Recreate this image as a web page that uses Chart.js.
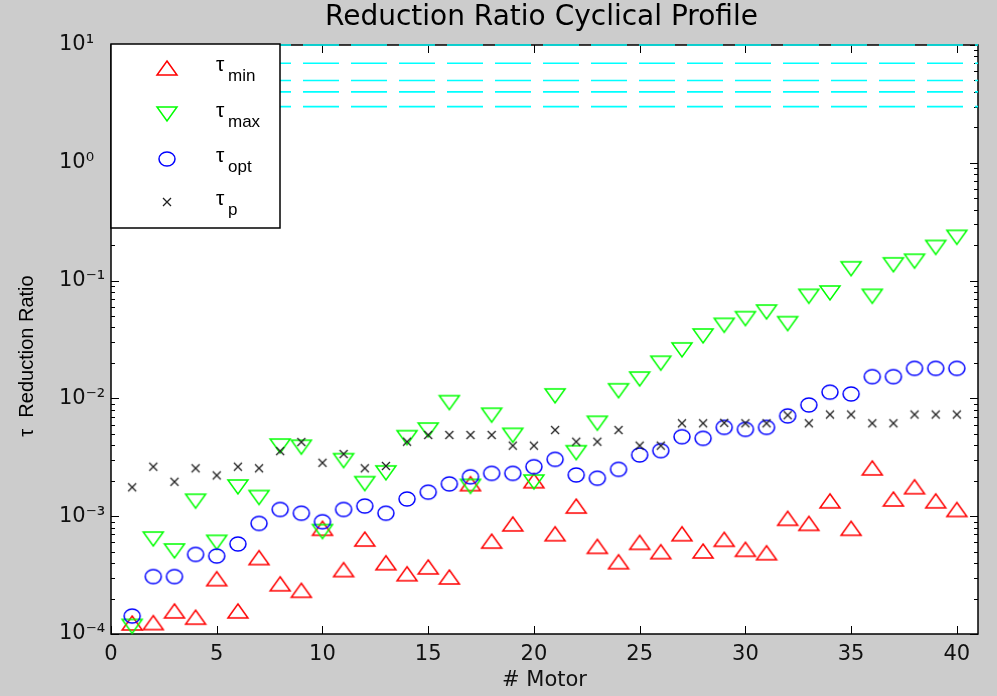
<!DOCTYPE html>
<html>
<head>
<meta charset="utf-8">
<script src="https://cdn.jsdelivr.net/npm/chart.js@4.4.0/dist/chart.umd.min.js"></script>
<style>
html,body{margin:0;padding:0;background:#cccccc;}
#wrap{width:997px;height:696px;position:relative;}
</style>
</head>
<body>
<div id="wrap"><canvas id="c" width="997" height="696"></canvas></div>
<script>
// ---------------- data ----------------
const motors = [1,2,3,4,5,6,7,8,9,10,11,12,13,14,15,16,17,18,19,20,21,22,23,24,25,26,27,28,29,30,31,32,33,34,35,36,37,38,39,40];
const tauMin = [1.24e-4,1.25e-4,1.57e-4,1.39e-4,2.95e-4,1.57e-4,4.45e-4,2.67e-4,2.35e-4,7.9e-4,
                3.52e-4,6.4e-4,4.03e-4,3.25e-4,3.71e-4,3.05e-4,1.89e-3,6.15e-4,8.6e-4,2.0e-3,
                7.1e-4,1.22e-3,5.55e-4,4.11e-4,6.0e-4,5.0e-4,7.1e-4,5.07e-4,6.37e-4,5.24e-4,
                4.9e-4,9.6e-4,8.7e-4,1.35e-3,7.9e-4,2.57e-3,1.40e-3,1.78e-3,1.35e-3,1.14e-3];
const tauMax = [1.16e-4,6.4e-4,5.07e-4,1.34e-3,6.0e-4,1.77e-3,1.44e-3,3.94e-3,3.85e-3,7.4e-4,
                2.96e-3,1.89e-3,2.33e-3,4.64e-3,5.39e-3,9.2e-3,1.79e-3,7.2e-3,4.86e-3,1.95e-3,
                1.05e-2,3.46e-3,6.15e-3,1.16e-2,1.46e-2,1.99e-2,2.58e-2,3.39e-2,4.17e-2,4.75e-2,
                5.41e-2,4.31e-2,7.35e-2,7.85e-2,0.126,7.35e-2,0.136,0.146,0.191,0.233];
const tauOpt = [1.42e-4,3.07e-4,3.07e-4,4.74e-4,4.59e-4,5.81e-4,8.69e-4,1.14e-3,1.06e-3,8.98e-4,
                1.14e-3,1.22e-3,1.06e-3,1.40e-3,1.60e-3,1.88e-3,2.16e-3,2.31e-3,2.31e-3,2.63e-3,
                3.04e-3,2.24e-3,2.10e-3,2.50e-3,3.31e-3,3.60e-3,4.73e-3,4.58e-3,5.68e-3,5.46e-3,
                5.68e-3,7.1e-3,8.8e-3,1.13e-2,1.09e-2,1.53e-2,1.53e-2,1.80e-2,1.80e-2,1.80e-2];
const tauP   = [1.76e-3,2.63e-3,1.96e-3,2.55e-3,2.22e-3,2.63e-3,2.55e-3,3.57e-3,4.26e-3,2.84e-3,
                3.37e-3,2.55e-3,2.67e-3,4.29e-3,4.89e-3,4.89e-3,4.89e-3,4.89e-3,3.97e-3,3.97e-3,
                5.39e-3,4.29e-3,4.29e-3,5.39e-3,3.97e-3,3.97e-3,6.15e-3,6.15e-3,6.2e-3,6.15e-3,
                6.15e-3,7.2e-3,6.15e-3,7.3e-3,7.3e-3,6.15e-3,6.15e-3,7.3e-3,7.3e-3,7.3e-3];
const refLevels = [10, 7, 5, 4, 3];
const xLimits = [0, 41];
const yLimits = [1e-4, 10];
const yTickValues = [1e-4, 1e-3, 1e-2, 1e-1, 1, 10];
const yTickLabels = ['10\u207B\u2074', '10\u207B\u00B3', '10\u207B\u00B2', '10\u207B\u00B9', '10\u2070', '10\u00B9'];
const seriesBase = '\u03C4';
const seriesSubs = ['min', 'max', 'opt', 'p'];
const titleText = 'Reduction Ratio Cyclical Profile';
const xTitle = '# Motor';
const yTitle = '\u03C4  Reduction Ratio';

// ---------------- marker images ----------------
function makeMarker(kind, color) {
  const c = document.createElement('canvas');
  const g = c.getContext('2d');
  if (kind === 'up' || kind === 'down') {
    c.width = 24; c.height = 18;
    g.strokeStyle = color; g.lineWidth = 1.5; g.lineJoin = 'miter';
    g.beginPath();
    if (kind === 'up') { g.moveTo(12, 2); g.lineTo(22, 16); g.lineTo(2, 16); }
    else { g.moveTo(2, 2); g.lineTo(22, 2); g.lineTo(12, 16); }
    g.closePath(); g.stroke();
  } else if (kind === 'circle') {
    c.width = 22; c.height = 20;
    g.strokeStyle = color; g.lineWidth = 1.5;
    g.beginPath(); g.ellipse(11, 10, 8, 7, 0, 0, Math.PI * 2); g.stroke();
  } else {
    c.width = 12; c.height = 12;
    g.strokeStyle = color; g.lineWidth = 1.3;
    g.beginPath(); g.moveTo(2, 2); g.lineTo(10, 10); g.moveTo(10, 2); g.lineTo(2, 10); g.stroke();
  }
  return c;
}
const mkMin = makeMarker('up', '#ff0000');
const mkMax = makeMarker('down', '#00ff00');
const mkOpt = makeMarker('circle', '#0000ff');
const mkP = makeMarker('x', '#222222');
const legendMarkers = [mkMin, mkMax, mkOpt, mkP];

function pts(vals) { return motors.map((m, i) => ({ x: m, y: vals[i] })); }

const datasets = [];
refLevels.forEach(lv => {
  datasets.push({
    type: 'line', label: 'ref ' + lv,
    data: [{ x: xLimits[0], y: lv }, { x: xLimits[1], y: lv }],
    showLine: true, borderColor: '#00ffff', borderWidth: 1.6, borderDash: [36, 12],
    pointRadius: 0, order: 10, clip: false
  });
});
[[tauMin, mkMin, 'min', 4], [tauMax, mkMax, 'max', 3], [tauOpt, mkOpt, 'opt', 2], [tauP, mkP, 'p', 1]]
  .forEach(([vals, mk, sub, ord]) => {
    datasets.push({
      label: seriesBase + sub, data: pts(vals), showLine: false,
      pointStyle: mk, pointRadius: 8, pointHoverRadius: 8,
      order: ord, clip: false
    });
  });

// ---------------- decoration plugin ----------------
const decor = {
  id: 'decor',
  beforeDraw(chart) {
    const { ctx, width, height, chartArea: a } = chart;
    ctx.save();
    ctx.fillStyle = '#cccccc'; ctx.fillRect(0, 0, width, height);
    ctx.fillStyle = '#ffffff'; ctx.fillRect(a.left, a.top, a.right - a.left, a.bottom - a.top);
    ctx.restore();
  },
  beforeDatasetsDraw(chart) {
    const { ctx, chartArea: a, scales } = chart;
    const xs = scales.x, ys = scales.y;
    ctx.save();
    ctx.strokeStyle = '#000'; ctx.lineWidth = 1;
    ctx.beginPath();
    xs.ticks.forEach(t => {
      const px = Math.round(xs.getPixelForValue(t.value)) + 0.5;
      ctx.moveTo(px, a.bottom); ctx.lineTo(px, a.bottom - 8);
      ctx.moveTo(px, a.top); ctx.lineTo(px, a.top + 8);
    });
    for (let d = -4; d <= 1; d++) {
      for (let k = 1; k <= 9; k++) {
        const v = k * Math.pow(10, d);
        if (v > yLimits[1] * 1.0001) break;
        const len = k === 1 ? 8 : 4;
        const py = Math.round(ys.getPixelForValue(v)) + 0.5;
        ctx.moveTo(a.left, py); ctx.lineTo(a.left + len, py);
        ctx.moveTo(a.right, py); ctx.lineTo(a.right - len, py);
      }
    }
    ctx.stroke();
    ctx.lineWidth = 1.5;
    ctx.strokeRect(a.left, a.top, a.right - a.left, a.bottom - a.top);
    ctx.restore();
  },
  afterDatasetsDraw(chart) {
    const { ctx, chartArea: a } = chart;
    ctx.save();
    const bx = a.left, by = a.top - 1, bw = 169, bh = 184;
    ctx.fillStyle = '#fff'; ctx.fillRect(bx, by, bw, bh);
    ctx.strokeStyle = '#000'; ctx.lineWidth = 1.5; ctx.strokeRect(bx, by, bw, bh);
    const rows = [68, 114, 158.5, 202];
    rows.forEach((ry, i) => {
      const m = legendMarkers[i];
      ctx.drawImage(m, Math.round(167 - m.width / 2), Math.round(ry - m.height / 2));
      ctx.fillStyle = '#000';
      ctx.textBaseline = 'middle'; ctx.textAlign = 'left';
      ctx.font = '21px "Liberation Sans", Arial, sans-serif';
      ctx.fillText(seriesBase, 216, ry - 2.5);
      ctx.font = '17px "Liberation Sans", Arial, sans-serif';
      ctx.fillText(seriesSubs[i], 228, ry + 8.5);
    });
    ctx.restore();
  },
  afterDraw(chart) {
    const { ctx, chartArea: a } = chart;
    ctx.save();
    ctx.fillStyle = '#000';
    ctx.textAlign = 'center'; ctx.textBaseline = 'middle';
    ctx.font = '28px "DejaVu Sans", sans-serif';
    ctx.fillText(titleText, (a.left + a.right) / 2 - 3, 17.5);
    ctx.translate(27, 356);
    ctx.rotate(-Math.PI / 2);
    ctx.font = '20px "Liberation Sans", Arial, sans-serif';
    ctx.fillText(yTitle, 0, 0);
    ctx.restore();
  }
};

new Chart(document.getElementById('c'), {
  type: 'scatter',
  data: { datasets },
  plugins: [decor],
  options: {
    responsive: false,
    devicePixelRatio: 1,
    animation: false,
    events: [],
    layout: { padding: { left: 59, right: 19, top: 45, bottom: 0 } },
    plugins: { legend: { display: false }, title: { display: false }, tooltip: { enabled: false } },
    scales: {
      x: {
        type: 'linear', min: xLimits[0], max: xLimits[1],
        afterFit: s => { s.height = 62; },
        grid: { display: false, drawTicks: false },
        border: { display: false },
        ticks: { stepSize: 5, includeBounds: false, padding: 8, maxRotation: 0, autoSkip: false,
                 color: '#111', font: { family: '"DejaVu Sans"', size: 21 } },
        title: { display: true, text: xTitle, color: '#111', font: { family: '"DejaVu Sans"', size: 21 },
                 padding: { top: 0, bottom: 3 } }
      },
      y: {
        type: 'logarithmic', min: yLimits[0], max: yLimits[1],
        afterFit: s => { s.width = 52; },
        afterBuildTicks: s => { s.ticks = yTickValues.map(v => ({ value: v, major: true })); },
        grid: { display: false, drawTicks: false },
        border: { display: false },
        ticks: {
          crossAlign: 'far', padding: 0, autoSkip: false,
          color: '#111', font: { family: '"DejaVu Sans"', size: 21 },
          callback: v => {
            const i = yTickValues.findIndex(t => Math.abs(Math.log10(t) - Math.log10(v)) < 1e-6);
            return i >= 0 ? yTickLabels[i] : '';
          }
        }
      }
    }
  }
});
</script>
</body>
</html>
